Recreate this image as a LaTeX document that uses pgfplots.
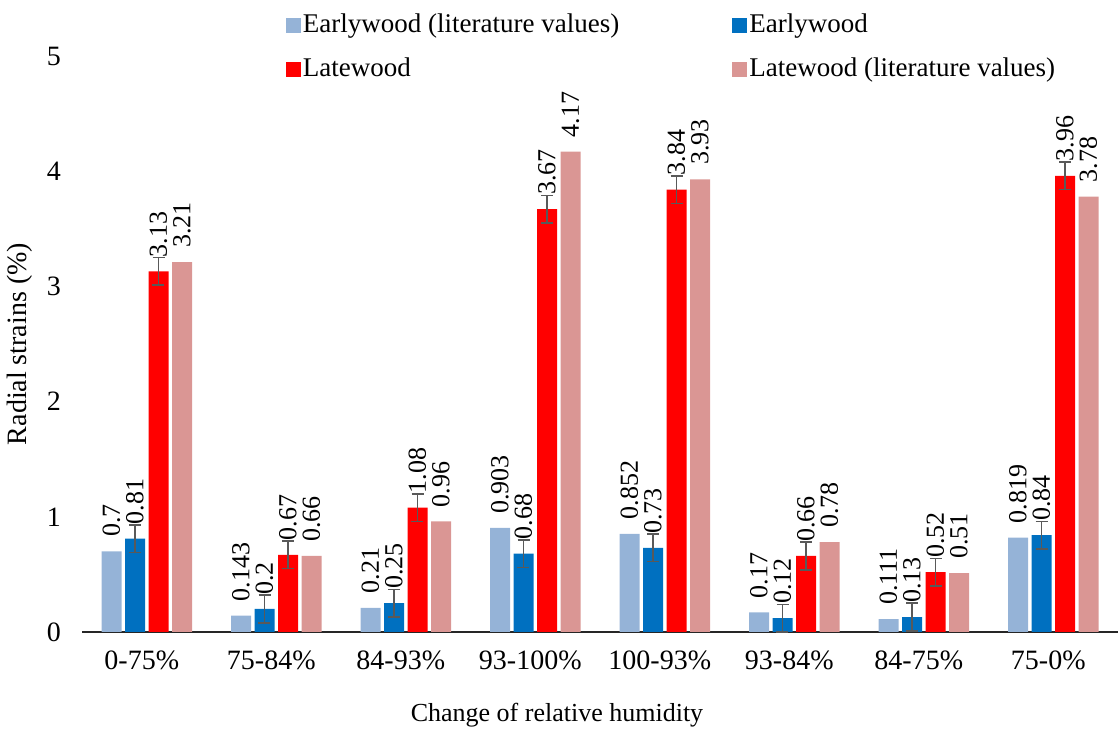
\documentclass[border=0pt]{standalone}
\usepackage{fontspec}
\setmainfont{Liberation Serif}
\usepackage{pgfplots}
\usepackage{pgfplotstable}
\pgfplotsset{compat=1.18}

\definecolor{elit}{HTML}{95B3D7}
\definecolor{ew}{HTML}{0070C0}
\definecolor{lw}{HTML}{FF0000}
\definecolor{llit}{HTML}{DA9694}
\definecolor{errc}{HTML}{595959}
\newcommand{\fs}{\fontsize{14}{16.8}\selectfont}
\newcommand{\fsl}{\fontsize{13.5}{16}\selectfont}
\newcommand{\fsn}{\fontsize{13}{15.6}\selectfont}

% x: group, elit/llit: literature values, ew/lw: measured with error
\pgfplotstableread{
x elit  ew   ewerr lw   lwerr llit
0 0.7   0.81 0.12  3.13 0.12  3.21
1 0.143 0.2  0.12  0.67 0.12  0.66
2 0.21  0.25 0.12  1.08 0.12  0.96
3 0.903 0.68 0.12  3.67 0.12  4.17
4 0.852 0.73 0.12  3.84 0.12  3.93
5 0.17  0.12 0.12  0.66 0.12  0.78
6 0.111 0.13 0.12  0.52 0.12  0.51
7 0.819 0.84 0.12  3.96 0.12  3.78
}\datatable

\begin{document}
\begin{tikzpicture}
\begin{axis}[
    at={(0,0)}, anchor=south west,
    scale only axis,
    width=518pt, height=288pt,
    xmin=-0.5, xmax=7.5,
    ymin=0, ymax=5,
    ytick={0,1,2,3,4,5},
    xtick={0,...,7},
    xticklabels={0-75\%,75-84\%,84-93\%,93-100\%,100-93\%,93-84\%,84-75\%,75-0\%},
    /pgf/number format/assume math mode=true,
    ybar=1.75pt, bar width=10pt,
    axis lines*=left,
    x axis line style={-, black!85, line width=0.7pt},
    y axis line style={draw=none},
    major tick length=0pt,
    tick label style={font=\fs},
    xticklabel style={yshift=-6pt, xshift=-2.5pt},
    yticklabel style={xshift=-7pt},
    xlabel={Change of relative humidity},
    ylabel={Radial strains (\%)},
    xlabel style={font=\fsn, at={(axis description cs:0.4585,-0.144)}, anchor=center},
    ylabel style={font=\fs, at={(axis description cs:-0.0598,0.5)}, anchor=center},
    clip=false,
    point meta=y,
    nodes near coords={\pgfmathprintnumber[fixed,precision=3]{\pgfplotspointmeta}},
    every node near coord/.append style={rotate=90, anchor=west, font=\fsn,
        inner xsep=7pt, inner ysep=0pt, text=black},
    legend columns=2,
    legend cell align=left,
    legend image code/.code={\fill[#1] (0pt,-3.75pt) rectangle (7.5pt,3.75pt);},
    legend style={draw=none, fill=none, inner sep=0pt, font=\fsl,
        at={(axis description cs:0.1965,1.0156)}, anchor=west,
        nodes={inner sep=1pt, text height=10pt, text depth=3pt},
        row sep=7pt,
        /tikz/every even column/.append style={column sep=55.5pt}},
    error bars/error bar style={errc, line width=0.75pt},
    error bars/error mark options={rotate=90, mark size=3pt, errc, line width=0.75pt},
]
\addplot[fill=elit, draw=none] table[x=x, y=elit] {\datatable};
\addplot[fill=ew, draw=none, error bars/.cd, y dir=both, y explicit]
    table[x=x, y=ew, y error=ewerr] {\datatable};
\addplot[fill=lw, draw=none, error bars/.cd, y dir=both, y explicit]
    table[x=x, y=lw, y error=lwerr] {\datatable};
\addplot[fill=llit, draw=none] table[x=x, y=llit] {\datatable};
\legend{Earlywood (literature values), Earlywood, Latewood, Latewood (literature values)}
\end{axis}
\pgfresetboundingbox
\path[use as bounding box] (-41pt,-50pt) rectangle (518pt,316pt);
\end{tikzpicture}
\end{document}
